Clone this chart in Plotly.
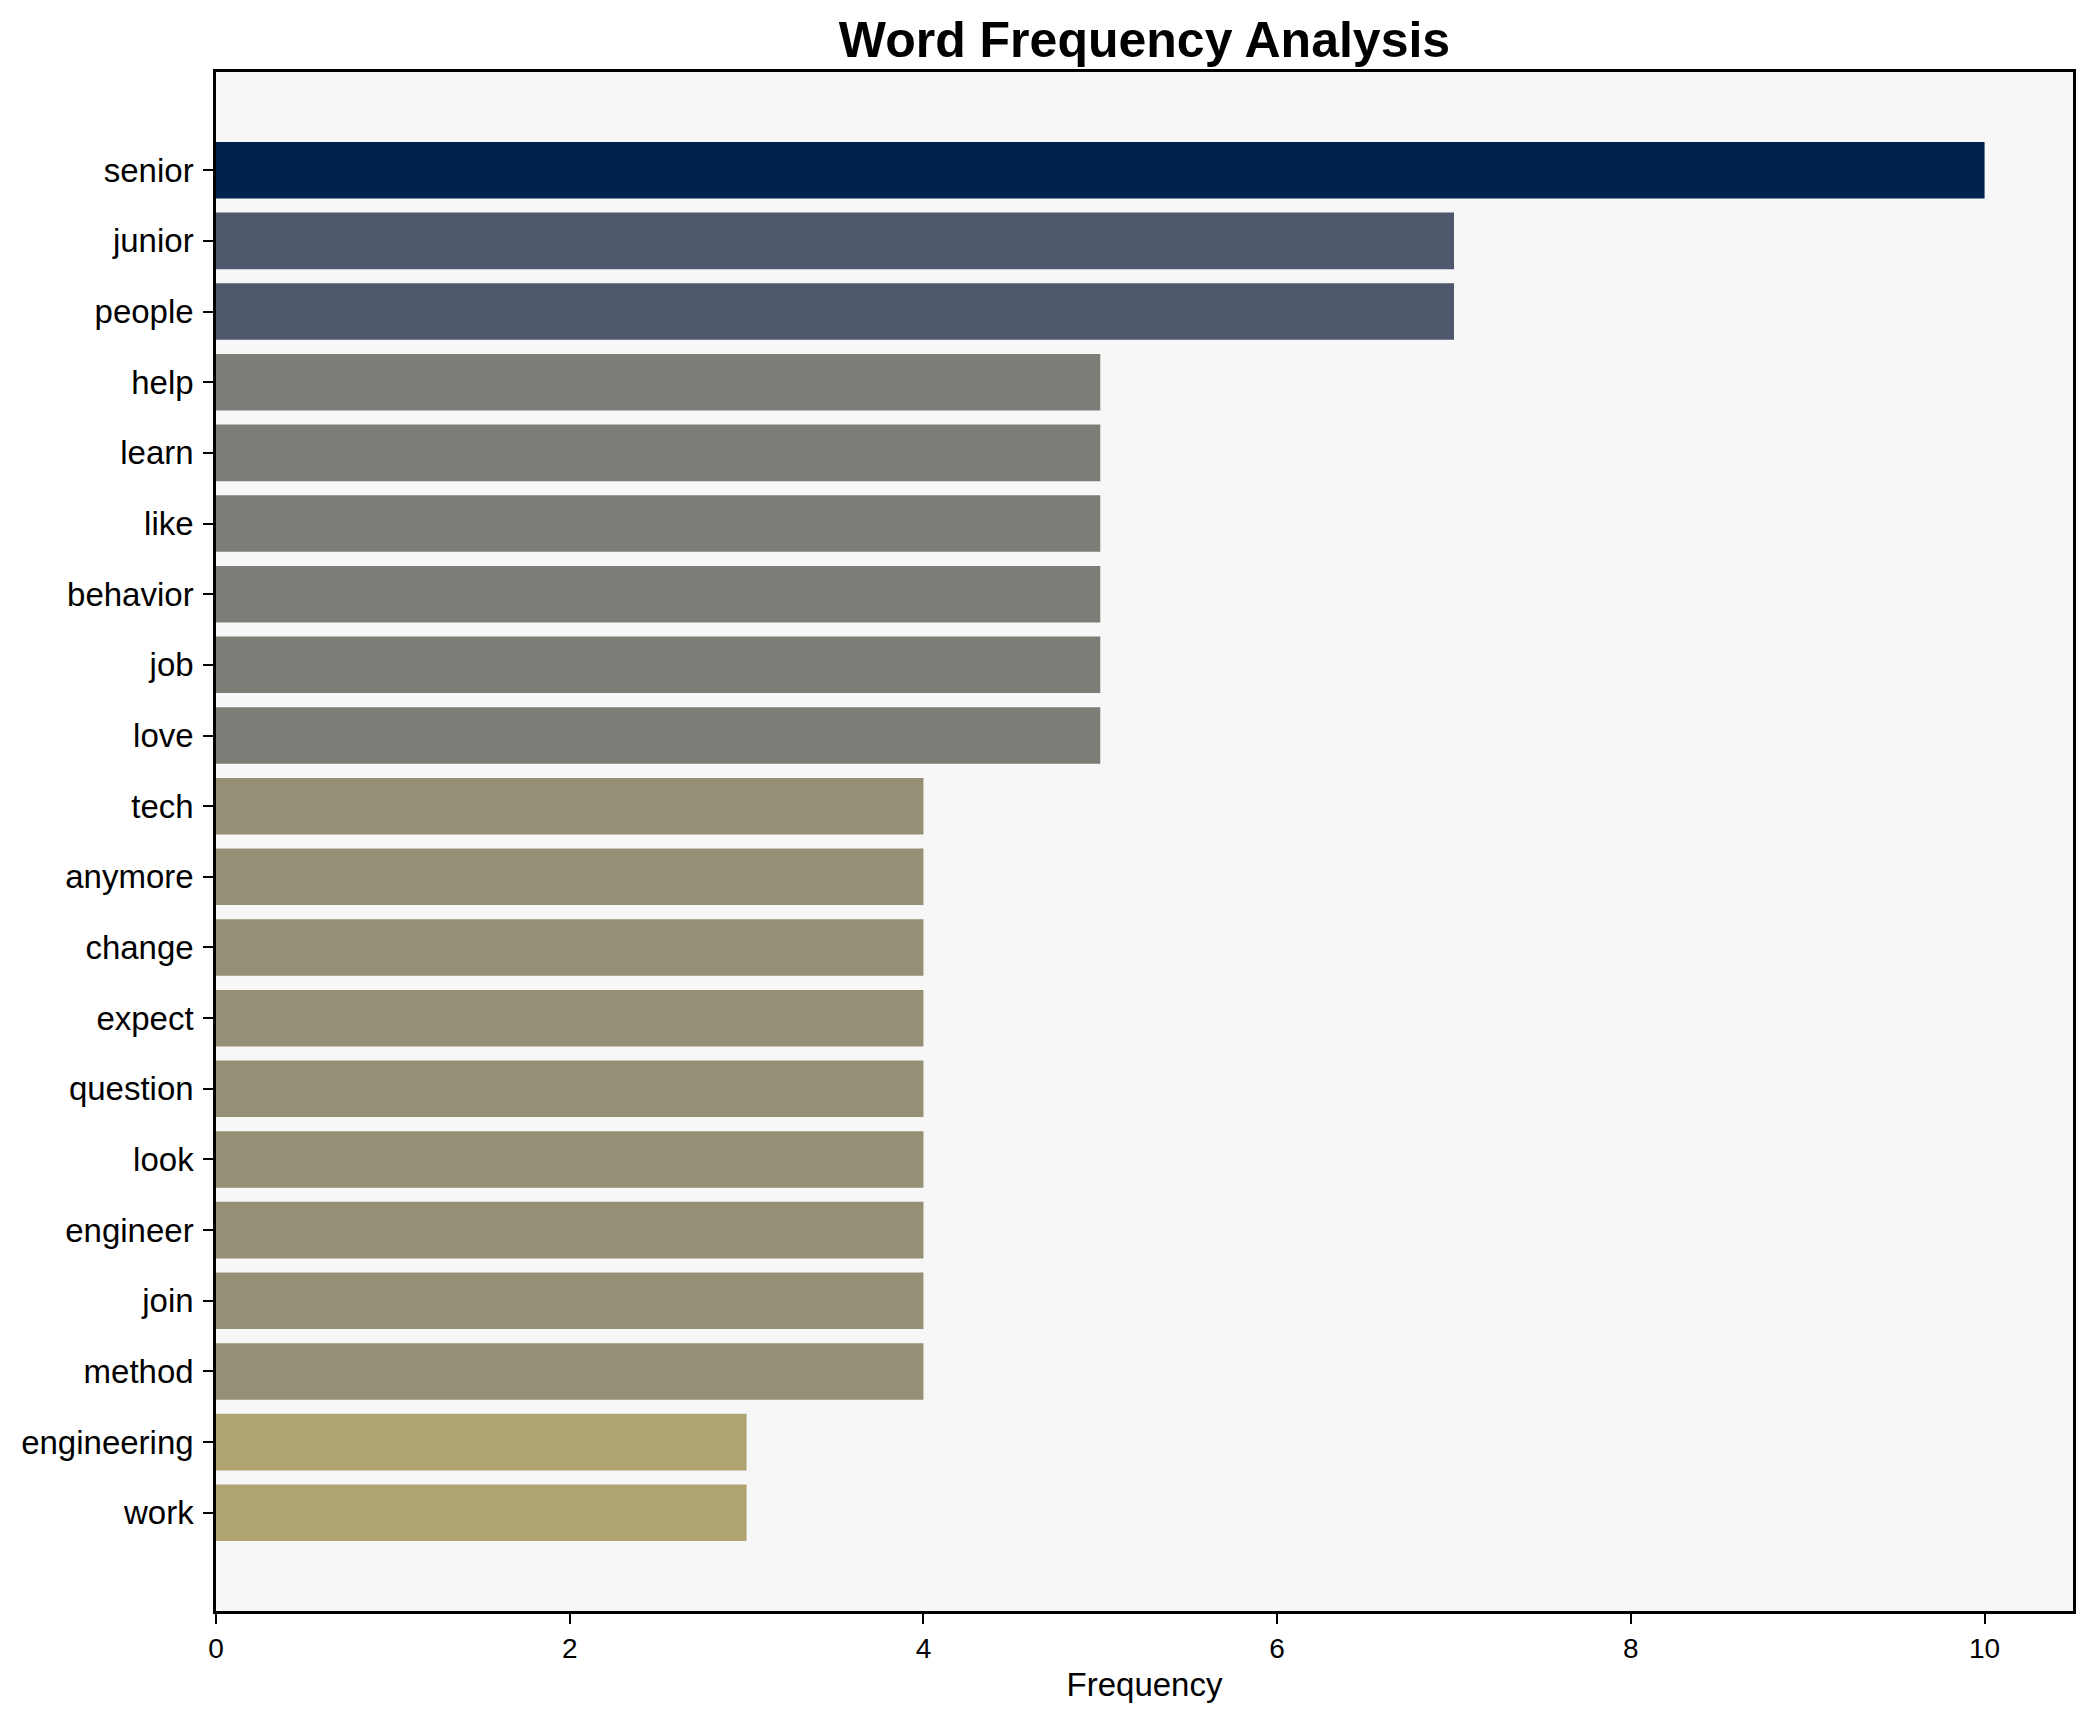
import plotly.graph_objects as go

words = ["senior", "junior", "people", "help", "learn", "like", "behavior", "job", "love",
         "tech", "anymore", "change", "expect", "question", "look", "engineer", "join",
         "method", "engineering", "work"]
frequency = [10, 7, 7, 5, 5, 5, 5, 5, 5, 4, 4, 4, 4, 4, 4, 4, 4, 4, 3, 3]

# matplotlib-like cividis stops
cividis = ["#00224e", "#123570", "#3b496c", "#575d6d", "#707173",
           "#8a8678", "#a59c74", "#c3b369", "#e1cc55", "#fee838"]
colorscale = [[i / (len(cividis) - 1), c] for i, c in enumerate(cividis)]

FONT = "Liberation Sans, Arial, sans-serif"

fig = go.Figure(go.Bar(
    x=frequency,
    y=words,
    orientation="h",
    width=0.8,
    marker=dict(color=frequency, colorscale=colorscale, reversescale=True,
                cmin=0, cmax=max(frequency), line=dict(width=0)),
    showlegend=False,
))

n = len(words)
W, H = 2085, 1714
fig.update_layout(
    width=W, height=H,
    margin=dict(l=208, r=20, t=64, b=111),
    paper_bgcolor="white",
    plot_bgcolor="#f7f7f7",
    font=dict(family=FONT, color="black"),
    title=dict(text="<b>Word Frequency Analysis</b>", font=dict(size=50, family=FONT, color="black"),
               x=0.5, xref="paper", xanchor="center",
               y=1 - 31 / H, yref="container", yanchor="middle"),
    bargap=0.2,
)
fig.update_xaxes(
    range=[0, 10.5], tickvals=[0, 2, 4, 6, 8, 10],
    showgrid=False, zeroline=False,
    showline=True, linecolor="black", linewidth=2.5, mirror=True,
    ticks="outside", ticklen=10, tickwidth=2, tickcolor="black",
    tickfont=dict(size=28, family=FONT, color="black"),
    ticklabelstandoff=1,
    title=dict(text="Frequency", font=dict(size=33, family=FONT, color="black"), standoff=10),
)
fig.update_yaxes(
    range=[n - 1 + 0.4 + 0.99, -1.39],
    showgrid=False, zeroline=False,
    showline=True, linecolor="black", linewidth=2.5, mirror=True,
    ticks="outside", ticklen=10, tickwidth=2, tickcolor="black",
    tickfont=dict(size=33, family=FONT, color="black"),
    ticklabelstandoff=3,
)

fig.write_html("out.html")
